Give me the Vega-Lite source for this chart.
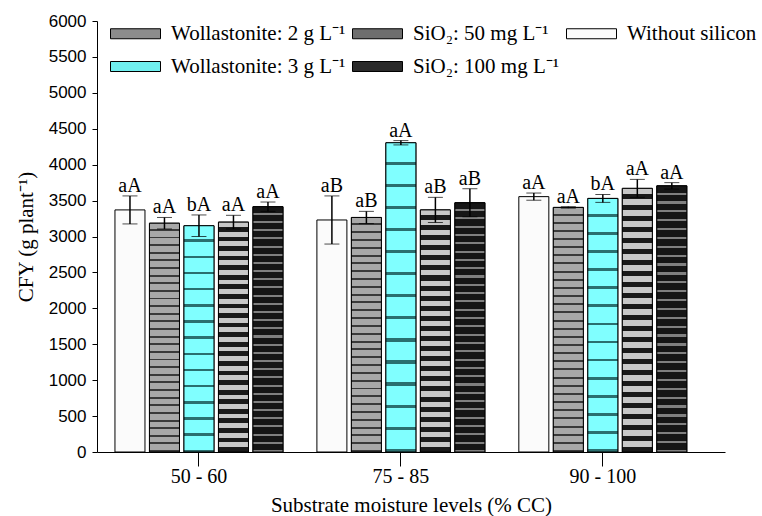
{
  "$schema": "https://vega.github.io/schema/vega-lite/v6.json",
  "width": 628,
  "height": 431,
  "autosize": {"type": "none"},
  "padding": {"left": 97, "top": 21, "right": 37, "bottom": 64},
  "background": "white",
  "config": {
    "view": {"stroke": null},
    "font": "Liberation Serif",
    "axisY": {
      "values": [0, 250, 500, 750, 1000, 1250, 1500, 1750, 2000, 2250, 2500, 2750, 3000, 3250, 3500, 3750, 4000, 4250, 4500, 4750, 5000, 5250, 5500, 5750, 6000],
      "labelExpr": "datum.value % 500 === 0 ? datum.value : ''",
      "labelOverlap": false,
      "grid": false,
      "labelFont": "Liberation Sans", "labelFontSize": 17, "labelColor": "black",
      "labelPadding": 6,
      "titleFont": "Liberation Serif", "titleFontSize": 21, "titleFontWeight": "normal", "titleColor": "black",
      "titlePadding": 12,
      "domainColor": "black", "domainWidth": 1,
      "tickColor": "black", "tickWidth": 1,
      "tickSize": 5
    }
  },
  "data": {"values": [
    {"level": "50 - 60", "treatment": "Without silicon", "cfy": 3370, "sd": 195, "letter": "aA"},
    {"level": "50 - 60", "treatment": "Wollastonite: 2 g L⁻¹", "cfy": 3185, "sd": 80, "letter": "aA"},
    {"level": "50 - 60", "treatment": "Wollastonite: 3 g L⁻¹", "cfy": 3150, "sd": 150, "letter": "bA"},
    {"level": "50 - 60", "treatment": "SiO₂: 50 mg L⁻¹", "cfy": 3200, "sd": 95, "letter": "aA"},
    {"level": "50 - 60", "treatment": "SiO₂: 100 mg L⁻¹", "cfy": 3415, "sd": 65, "letter": "aA"},
    {"level": "75 - 85", "treatment": "Without silicon", "cfy": 3230, "sd": 335, "letter": "aB"},
    {"level": "75 - 85", "treatment": "Wollastonite: 2 g L⁻¹", "cfy": 3265, "sd": 85, "letter": "aB"},
    {"level": "75 - 85", "treatment": "Wollastonite: 3 g L⁻¹", "cfy": 4305, "sd": 30, "letter": "aA"},
    {"level": "75 - 85", "treatment": "SiO₂: 50 mg L⁻¹", "cfy": 3370, "sd": 175, "letter": "aB"},
    {"level": "75 - 85", "treatment": "SiO₂: 100 mg L⁻¹", "cfy": 3470, "sd": 195, "letter": "aB"},
    {"level": "90 - 100", "treatment": "Without silicon", "cfy": 3555, "sd": 50, "letter": "aA"},
    {"level": "90 - 100", "treatment": "Wollastonite: 2 g L⁻¹", "cfy": 3405, "sd": 10, "letter": "aA"},
    {"level": "90 - 100", "treatment": "Wollastonite: 3 g L⁻¹", "cfy": 3530, "sd": 55, "letter": "bA"},
    {"level": "90 - 100", "treatment": "SiO₂: 50 mg L⁻¹", "cfy": 3670, "sd": 125, "letter": "aA"},
    {"level": "90 - 100", "treatment": "SiO₂: 100 mg L⁻¹", "cfy": 3705, "sd": 45, "letter": "aA"}
  ]},
  "encoding": {
    "x": {
      "field": "level", "type": "nominal",
      "sort": ["50 - 60", "75 - 85", "90 - 100"],
      "scale": {"paddingInner": 0.168, "paddingOuter": 0.139, "align": 0.32},
      "axis": {
        "title": "Substrate moisture levels (% CC)",
        "labelAngle": 0,
        "labelFont": "Liberation Serif", "labelFontSize": 20, "labelColor": "black",
        "labelPadding": 0,
        "titleFont": "Liberation Serif", "titleFontSize": 21, "titleFontWeight": "normal", "titleColor": "black",
        "titlePadding": 8,
        "domainColor": "black", "domainWidth": 1,
        "tickColor": "black", "tickSize": 14, "tickWidth": 1
      }
    },
    "xOffset": {
      "field": "treatment", "type": "nominal",
      "sort": ["Without silicon", "Wollastonite: 2 g L⁻¹", "Wollastonite: 3 g L⁻¹", "SiO₂: 50 mg L⁻¹", "SiO₂: 100 mg L⁻¹"],
      "scale": {"paddingInner": 0.13, "paddingOuter": 0}
    },
    "y": {
      "field": "cfy", "type": "quantitative",
      "title": "CFY (g plant⁻¹)",
      "scale": {"domain": [0, 6000], "nice": false}
    }
  },
  "layer": [
    {
      "mark": {"type": "bar", "stroke": "black", "strokeWidth": 1},
      "encoding": {
        "fill": {
          "field": "treatment", "type": "nominal",
          "scale": {
            "domain": ["Wollastonite: 2 g L⁻¹", "Wollastonite: 3 g L⁻¹", "SiO₂: 50 mg L⁻¹", "SiO₂: 100 mg L⁻¹", "Without silicon"],
            "range": ["#8c8c8c", "#70f0f0", "#6e6e6e", "#2a2a2a", "#fbfbfb"]
          },
          "legend": {
            "title": null,
            "orient": "none",
            "legendX": 28,
            "legendY": 2,
            "columns": 3,
            "gridAlign": "each",
            "columnPadding": 4,
            "rowPadding": 11,
            "symbolType": "M-2.5,-0.5H2.5V0.5H-2.5Z",
            "symbolSize": 400,
            "symbolStrokeColor": "black",
            "symbolStrokeWidth": 1,
            "symbolOpacity": 1,
            "labelFont": "Liberation Serif",
            "labelFontSize": 21,
            "labelColor": "black",
            "labelOffset": 25,
            "labelLimit": 400
          }
        }
      }
    },
    {
      "transform": [{"filter": "datum.treatment === 'Wollastonite: 2 g L⁻¹'"}],
      "mark": {"type": "bar", "stroke": "black", "strokeWidth": 1, "fill": {"gradient": "linear", "x1": 0, "y1": 0, "x2": 0, "y2": 1, "stops": [
        {"offset": 0, "color": "#a8a8a8"}, {"offset": 0.025, "color": "#a8a8a8"}, {"offset": 0.025, "color": "#3a3a3a"}, {"offset": 0.0333, "color": "#3a3a3a"},
        {"offset": 0.0333, "color": "#a8a8a8"}, {"offset": 0.0583, "color": "#a8a8a8"}, {"offset": 0.0583, "color": "#3a3a3a"}, {"offset": 0.0667, "color": "#3a3a3a"},
        {"offset": 0.0667, "color": "#a8a8a8"}, {"offset": 0.0917, "color": "#a8a8a8"}, {"offset": 0.0917, "color": "#3a3a3a"}, {"offset": 0.1, "color": "#3a3a3a"},
        {"offset": 0.1, "color": "#a8a8a8"}, {"offset": 0.125, "color": "#a8a8a8"}, {"offset": 0.125, "color": "#3a3a3a"}, {"offset": 0.1333, "color": "#3a3a3a"},
        {"offset": 0.1333, "color": "#a8a8a8"}, {"offset": 0.1583, "color": "#a8a8a8"}, {"offset": 0.1583, "color": "#3a3a3a"}, {"offset": 0.1667, "color": "#3a3a3a"},
        {"offset": 0.1667, "color": "#a8a8a8"}, {"offset": 0.1917, "color": "#a8a8a8"}, {"offset": 0.1917, "color": "#3a3a3a"}, {"offset": 0.2, "color": "#3a3a3a"},
        {"offset": 0.2, "color": "#a8a8a8"}, {"offset": 0.225, "color": "#a8a8a8"}, {"offset": 0.225, "color": "#3a3a3a"}, {"offset": 0.2333, "color": "#3a3a3a"},
        {"offset": 0.2333, "color": "#a8a8a8"}, {"offset": 0.2583, "color": "#a8a8a8"}, {"offset": 0.2583, "color": "#3a3a3a"}, {"offset": 0.2667, "color": "#3a3a3a"},
        {"offset": 0.2667, "color": "#a8a8a8"}, {"offset": 0.2917, "color": "#a8a8a8"}, {"offset": 0.2917, "color": "#3a3a3a"}, {"offset": 0.3, "color": "#3a3a3a"},
        {"offset": 0.3, "color": "#a8a8a8"}, {"offset": 0.325, "color": "#a8a8a8"}, {"offset": 0.325, "color": "#3a3a3a"}, {"offset": 0.3333, "color": "#3a3a3a"},
        {"offset": 0.3333, "color": "#a8a8a8"}, {"offset": 0.3583, "color": "#a8a8a8"}, {"offset": 0.3583, "color": "#3a3a3a"}, {"offset": 0.3667, "color": "#3a3a3a"},
        {"offset": 0.3667, "color": "#a8a8a8"}, {"offset": 0.3917, "color": "#a8a8a8"}, {"offset": 0.3917, "color": "#3a3a3a"}, {"offset": 0.4, "color": "#3a3a3a"},
        {"offset": 0.4, "color": "#a8a8a8"}, {"offset": 0.425, "color": "#a8a8a8"}, {"offset": 0.425, "color": "#3a3a3a"}, {"offset": 0.4333, "color": "#3a3a3a"},
        {"offset": 0.4333, "color": "#a8a8a8"}, {"offset": 0.4583, "color": "#a8a8a8"}, {"offset": 0.4583, "color": "#3a3a3a"}, {"offset": 0.4667, "color": "#3a3a3a"},
        {"offset": 0.4667, "color": "#a8a8a8"}, {"offset": 0.4917, "color": "#a8a8a8"}, {"offset": 0.4917, "color": "#3a3a3a"}, {"offset": 0.5, "color": "#3a3a3a"},
        {"offset": 0.5, "color": "#a8a8a8"}, {"offset": 0.525, "color": "#a8a8a8"}, {"offset": 0.525, "color": "#3a3a3a"}, {"offset": 0.5333, "color": "#3a3a3a"},
        {"offset": 0.5333, "color": "#a8a8a8"}, {"offset": 0.5583, "color": "#a8a8a8"}, {"offset": 0.5583, "color": "#3a3a3a"}, {"offset": 0.5667, "color": "#3a3a3a"},
        {"offset": 0.5667, "color": "#a8a8a8"}, {"offset": 0.5917, "color": "#a8a8a8"}, {"offset": 0.5917, "color": "#3a3a3a"}, {"offset": 0.6, "color": "#3a3a3a"},
        {"offset": 0.6, "color": "#a8a8a8"}, {"offset": 0.625, "color": "#a8a8a8"}, {"offset": 0.625, "color": "#3a3a3a"}, {"offset": 0.6333, "color": "#3a3a3a"},
        {"offset": 0.6333, "color": "#a8a8a8"}, {"offset": 0.6583, "color": "#a8a8a8"}, {"offset": 0.6583, "color": "#3a3a3a"}, {"offset": 0.6667, "color": "#3a3a3a"},
        {"offset": 0.6667, "color": "#a8a8a8"}, {"offset": 0.6917, "color": "#a8a8a8"}, {"offset": 0.6917, "color": "#3a3a3a"}, {"offset": 0.7, "color": "#3a3a3a"},
        {"offset": 0.7, "color": "#a8a8a8"}, {"offset": 0.725, "color": "#a8a8a8"}, {"offset": 0.725, "color": "#3a3a3a"}, {"offset": 0.7333, "color": "#3a3a3a"},
        {"offset": 0.7333, "color": "#a8a8a8"}, {"offset": 0.7583, "color": "#a8a8a8"}, {"offset": 0.7583, "color": "#3a3a3a"}, {"offset": 0.7667, "color": "#3a3a3a"},
        {"offset": 0.7667, "color": "#a8a8a8"}, {"offset": 0.7917, "color": "#a8a8a8"}, {"offset": 0.7917, "color": "#3a3a3a"}, {"offset": 0.8, "color": "#3a3a3a"},
        {"offset": 0.8, "color": "#a8a8a8"}, {"offset": 0.825, "color": "#a8a8a8"}, {"offset": 0.825, "color": "#3a3a3a"}, {"offset": 0.8333, "color": "#3a3a3a"},
        {"offset": 0.8333, "color": "#a8a8a8"}, {"offset": 0.8583, "color": "#a8a8a8"}, {"offset": 0.8583, "color": "#3a3a3a"}, {"offset": 0.8667, "color": "#3a3a3a"},
        {"offset": 0.8667, "color": "#a8a8a8"}, {"offset": 0.8917, "color": "#a8a8a8"}, {"offset": 0.8917, "color": "#3a3a3a"}, {"offset": 0.9, "color": "#3a3a3a"},
        {"offset": 0.9, "color": "#a8a8a8"}, {"offset": 0.925, "color": "#a8a8a8"}, {"offset": 0.925, "color": "#3a3a3a"}, {"offset": 0.9333, "color": "#3a3a3a"},
        {"offset": 0.9333, "color": "#a8a8a8"}, {"offset": 0.9583, "color": "#a8a8a8"}, {"offset": 0.9583, "color": "#3a3a3a"}, {"offset": 0.9667, "color": "#3a3a3a"},
        {"offset": 0.9667, "color": "#a8a8a8"}, {"offset": 0.9917, "color": "#a8a8a8"}, {"offset": 0.9917, "color": "#3a3a3a"}, {"offset": 1, "color": "#3a3a3a"}
      ]}},
      "encoding": {}
    },
    {
      "transform": [{"filter": "datum.treatment === 'Wollastonite: 3 g L⁻¹'"}],
      "mark": {"type": "bar", "stroke": "black", "strokeWidth": 1, "fill": {"gradient": "linear", "x1": 0, "y1": 0, "x2": 0, "y2": 1, "stops": [
        {"offset": 0, "color": "#80ffff"}, {"offset": 0.0607, "color": "#80ffff"}, {"offset": 0.0607, "color": "#2a6f6f"}, {"offset": 0.0714, "color": "#2a6f6f"},
        {"offset": 0.0714, "color": "#80ffff"}, {"offset": 0.1321, "color": "#80ffff"}, {"offset": 0.1321, "color": "#2a6f6f"}, {"offset": 0.1429, "color": "#2a6f6f"},
        {"offset": 0.1429, "color": "#80ffff"}, {"offset": 0.2036, "color": "#80ffff"}, {"offset": 0.2036, "color": "#2a6f6f"}, {"offset": 0.2143, "color": "#2a6f6f"},
        {"offset": 0.2143, "color": "#80ffff"}, {"offset": 0.275, "color": "#80ffff"}, {"offset": 0.275, "color": "#2a6f6f"}, {"offset": 0.2857, "color": "#2a6f6f"},
        {"offset": 0.2857, "color": "#80ffff"}, {"offset": 0.3464, "color": "#80ffff"}, {"offset": 0.3464, "color": "#2a6f6f"}, {"offset": 0.3571, "color": "#2a6f6f"},
        {"offset": 0.3571, "color": "#80ffff"}, {"offset": 0.4179, "color": "#80ffff"}, {"offset": 0.4179, "color": "#2a6f6f"}, {"offset": 0.4286, "color": "#2a6f6f"},
        {"offset": 0.4286, "color": "#80ffff"}, {"offset": 0.4893, "color": "#80ffff"}, {"offset": 0.4893, "color": "#2a6f6f"}, {"offset": 0.5, "color": "#2a6f6f"},
        {"offset": 0.5, "color": "#80ffff"}, {"offset": 0.5607, "color": "#80ffff"}, {"offset": 0.5607, "color": "#2a6f6f"}, {"offset": 0.5714, "color": "#2a6f6f"},
        {"offset": 0.5714, "color": "#80ffff"}, {"offset": 0.6321, "color": "#80ffff"}, {"offset": 0.6321, "color": "#2a6f6f"}, {"offset": 0.6429, "color": "#2a6f6f"},
        {"offset": 0.6429, "color": "#80ffff"}, {"offset": 0.7036, "color": "#80ffff"}, {"offset": 0.7036, "color": "#2a6f6f"}, {"offset": 0.7143, "color": "#2a6f6f"},
        {"offset": 0.7143, "color": "#80ffff"}, {"offset": 0.775, "color": "#80ffff"}, {"offset": 0.775, "color": "#2a6f6f"}, {"offset": 0.7857, "color": "#2a6f6f"},
        {"offset": 0.7857, "color": "#80ffff"}, {"offset": 0.8464, "color": "#80ffff"}, {"offset": 0.8464, "color": "#2a6f6f"}, {"offset": 0.8571, "color": "#2a6f6f"},
        {"offset": 0.8571, "color": "#80ffff"}, {"offset": 0.9179, "color": "#80ffff"}, {"offset": 0.9179, "color": "#2a6f6f"}, {"offset": 0.9286, "color": "#2a6f6f"},
        {"offset": 0.9286, "color": "#80ffff"}, {"offset": 0.9893, "color": "#80ffff"}, {"offset": 0.9893, "color": "#2a6f6f"}, {"offset": 1, "color": "#2a6f6f"}
      ]}},
      "encoding": {}
    },
    {
      "transform": [{"filter": "datum.treatment === 'SiO₂: 50 mg L⁻¹'"}],
      "mark": {"type": "bar", "stroke": "black", "strokeWidth": 1, "fill": {"gradient": "linear", "x1": 0, "y1": 0, "x2": 0, "y2": 1, "stops": [
        {"offset": 0, "color": "#c8c8c8"}, {"offset": 0.0208, "color": "#c8c8c8"}, {"offset": 0.0208, "color": "#1a1a1a"}, {"offset": 0.0417, "color": "#1a1a1a"},
        {"offset": 0.0417, "color": "#c8c8c8"}, {"offset": 0.0625, "color": "#c8c8c8"}, {"offset": 0.0625, "color": "#1a1a1a"}, {"offset": 0.0833, "color": "#1a1a1a"},
        {"offset": 0.0833, "color": "#c8c8c8"}, {"offset": 0.1042, "color": "#c8c8c8"}, {"offset": 0.1042, "color": "#1a1a1a"}, {"offset": 0.125, "color": "#1a1a1a"},
        {"offset": 0.125, "color": "#c8c8c8"}, {"offset": 0.1458, "color": "#c8c8c8"}, {"offset": 0.1458, "color": "#1a1a1a"}, {"offset": 0.1667, "color": "#1a1a1a"},
        {"offset": 0.1667, "color": "#c8c8c8"}, {"offset": 0.1875, "color": "#c8c8c8"}, {"offset": 0.1875, "color": "#1a1a1a"}, {"offset": 0.2083, "color": "#1a1a1a"},
        {"offset": 0.2083, "color": "#c8c8c8"}, {"offset": 0.2292, "color": "#c8c8c8"}, {"offset": 0.2292, "color": "#1a1a1a"}, {"offset": 0.25, "color": "#1a1a1a"},
        {"offset": 0.25, "color": "#c8c8c8"}, {"offset": 0.2708, "color": "#c8c8c8"}, {"offset": 0.2708, "color": "#1a1a1a"}, {"offset": 0.2917, "color": "#1a1a1a"},
        {"offset": 0.2917, "color": "#c8c8c8"}, {"offset": 0.3125, "color": "#c8c8c8"}, {"offset": 0.3125, "color": "#1a1a1a"}, {"offset": 0.3333, "color": "#1a1a1a"},
        {"offset": 0.3333, "color": "#c8c8c8"}, {"offset": 0.3542, "color": "#c8c8c8"}, {"offset": 0.3542, "color": "#1a1a1a"}, {"offset": 0.375, "color": "#1a1a1a"},
        {"offset": 0.375, "color": "#c8c8c8"}, {"offset": 0.3958, "color": "#c8c8c8"}, {"offset": 0.3958, "color": "#1a1a1a"}, {"offset": 0.4167, "color": "#1a1a1a"},
        {"offset": 0.4167, "color": "#c8c8c8"}, {"offset": 0.4375, "color": "#c8c8c8"}, {"offset": 0.4375, "color": "#1a1a1a"}, {"offset": 0.4583, "color": "#1a1a1a"},
        {"offset": 0.4583, "color": "#c8c8c8"}, {"offset": 0.4792, "color": "#c8c8c8"}, {"offset": 0.4792, "color": "#1a1a1a"}, {"offset": 0.5, "color": "#1a1a1a"},
        {"offset": 0.5, "color": "#c8c8c8"}, {"offset": 0.5208, "color": "#c8c8c8"}, {"offset": 0.5208, "color": "#1a1a1a"}, {"offset": 0.5417, "color": "#1a1a1a"},
        {"offset": 0.5417, "color": "#c8c8c8"}, {"offset": 0.5625, "color": "#c8c8c8"}, {"offset": 0.5625, "color": "#1a1a1a"}, {"offset": 0.5833, "color": "#1a1a1a"},
        {"offset": 0.5833, "color": "#c8c8c8"}, {"offset": 0.6042, "color": "#c8c8c8"}, {"offset": 0.6042, "color": "#1a1a1a"}, {"offset": 0.625, "color": "#1a1a1a"},
        {"offset": 0.625, "color": "#c8c8c8"}, {"offset": 0.6458, "color": "#c8c8c8"}, {"offset": 0.6458, "color": "#1a1a1a"}, {"offset": 0.6667, "color": "#1a1a1a"},
        {"offset": 0.6667, "color": "#c8c8c8"}, {"offset": 0.6875, "color": "#c8c8c8"}, {"offset": 0.6875, "color": "#1a1a1a"}, {"offset": 0.7083, "color": "#1a1a1a"},
        {"offset": 0.7083, "color": "#c8c8c8"}, {"offset": 0.7292, "color": "#c8c8c8"}, {"offset": 0.7292, "color": "#1a1a1a"}, {"offset": 0.75, "color": "#1a1a1a"},
        {"offset": 0.75, "color": "#c8c8c8"}, {"offset": 0.7708, "color": "#c8c8c8"}, {"offset": 0.7708, "color": "#1a1a1a"}, {"offset": 0.7917, "color": "#1a1a1a"},
        {"offset": 0.7917, "color": "#c8c8c8"}, {"offset": 0.8125, "color": "#c8c8c8"}, {"offset": 0.8125, "color": "#1a1a1a"}, {"offset": 0.8333, "color": "#1a1a1a"},
        {"offset": 0.8333, "color": "#c8c8c8"}, {"offset": 0.8542, "color": "#c8c8c8"}, {"offset": 0.8542, "color": "#1a1a1a"}, {"offset": 0.875, "color": "#1a1a1a"},
        {"offset": 0.875, "color": "#c8c8c8"}, {"offset": 0.8958, "color": "#c8c8c8"}, {"offset": 0.8958, "color": "#1a1a1a"}, {"offset": 0.9167, "color": "#1a1a1a"},
        {"offset": 0.9167, "color": "#c8c8c8"}, {"offset": 0.9375, "color": "#c8c8c8"}, {"offset": 0.9375, "color": "#1a1a1a"}, {"offset": 0.9583, "color": "#1a1a1a"},
        {"offset": 0.9583, "color": "#c8c8c8"}, {"offset": 0.9792, "color": "#c8c8c8"}, {"offset": 0.9792, "color": "#1a1a1a"}, {"offset": 1, "color": "#1a1a1a"}
      ]}},
      "encoding": {}
    },
    {
      "transform": [{"filter": "datum.treatment === 'SiO₂: 100 mg L⁻¹'"}],
      "mark": {"type": "bar", "stroke": "black", "strokeWidth": 1, "fill": {"gradient": "linear", "x1": 0, "y1": 0, "x2": 0, "y2": 1, "stops": [
        {"offset": 0, "color": "#161616"}, {"offset": 0.025, "color": "#161616"}, {"offset": 0.025, "color": "#808080"}, {"offset": 0.0333, "color": "#808080"},
        {"offset": 0.0333, "color": "#161616"}, {"offset": 0.0583, "color": "#161616"}, {"offset": 0.0583, "color": "#808080"}, {"offset": 0.0667, "color": "#808080"},
        {"offset": 0.0667, "color": "#161616"}, {"offset": 0.0917, "color": "#161616"}, {"offset": 0.0917, "color": "#808080"}, {"offset": 0.1, "color": "#808080"},
        {"offset": 0.1, "color": "#161616"}, {"offset": 0.125, "color": "#161616"}, {"offset": 0.125, "color": "#808080"}, {"offset": 0.1333, "color": "#808080"},
        {"offset": 0.1333, "color": "#161616"}, {"offset": 0.1583, "color": "#161616"}, {"offset": 0.1583, "color": "#808080"}, {"offset": 0.1667, "color": "#808080"},
        {"offset": 0.1667, "color": "#161616"}, {"offset": 0.1917, "color": "#161616"}, {"offset": 0.1917, "color": "#808080"}, {"offset": 0.2, "color": "#808080"},
        {"offset": 0.2, "color": "#161616"}, {"offset": 0.225, "color": "#161616"}, {"offset": 0.225, "color": "#808080"}, {"offset": 0.2333, "color": "#808080"},
        {"offset": 0.2333, "color": "#161616"}, {"offset": 0.2583, "color": "#161616"}, {"offset": 0.2583, "color": "#808080"}, {"offset": 0.2667, "color": "#808080"},
        {"offset": 0.2667, "color": "#161616"}, {"offset": 0.2917, "color": "#161616"}, {"offset": 0.2917, "color": "#808080"}, {"offset": 0.3, "color": "#808080"},
        {"offset": 0.3, "color": "#161616"}, {"offset": 0.325, "color": "#161616"}, {"offset": 0.325, "color": "#808080"}, {"offset": 0.3333, "color": "#808080"},
        {"offset": 0.3333, "color": "#161616"}, {"offset": 0.3583, "color": "#161616"}, {"offset": 0.3583, "color": "#808080"}, {"offset": 0.3667, "color": "#808080"},
        {"offset": 0.3667, "color": "#161616"}, {"offset": 0.3917, "color": "#161616"}, {"offset": 0.3917, "color": "#808080"}, {"offset": 0.4, "color": "#808080"},
        {"offset": 0.4, "color": "#161616"}, {"offset": 0.425, "color": "#161616"}, {"offset": 0.425, "color": "#808080"}, {"offset": 0.4333, "color": "#808080"},
        {"offset": 0.4333, "color": "#161616"}, {"offset": 0.4583, "color": "#161616"}, {"offset": 0.4583, "color": "#808080"}, {"offset": 0.4667, "color": "#808080"},
        {"offset": 0.4667, "color": "#161616"}, {"offset": 0.4917, "color": "#161616"}, {"offset": 0.4917, "color": "#808080"}, {"offset": 0.5, "color": "#808080"},
        {"offset": 0.5, "color": "#161616"}, {"offset": 0.525, "color": "#161616"}, {"offset": 0.525, "color": "#808080"}, {"offset": 0.5333, "color": "#808080"},
        {"offset": 0.5333, "color": "#161616"}, {"offset": 0.5583, "color": "#161616"}, {"offset": 0.5583, "color": "#808080"}, {"offset": 0.5667, "color": "#808080"},
        {"offset": 0.5667, "color": "#161616"}, {"offset": 0.5917, "color": "#161616"}, {"offset": 0.5917, "color": "#808080"}, {"offset": 0.6, "color": "#808080"},
        {"offset": 0.6, "color": "#161616"}, {"offset": 0.625, "color": "#161616"}, {"offset": 0.625, "color": "#808080"}, {"offset": 0.6333, "color": "#808080"},
        {"offset": 0.6333, "color": "#161616"}, {"offset": 0.6583, "color": "#161616"}, {"offset": 0.6583, "color": "#808080"}, {"offset": 0.6667, "color": "#808080"},
        {"offset": 0.6667, "color": "#161616"}, {"offset": 0.6917, "color": "#161616"}, {"offset": 0.6917, "color": "#808080"}, {"offset": 0.7, "color": "#808080"},
        {"offset": 0.7, "color": "#161616"}, {"offset": 0.725, "color": "#161616"}, {"offset": 0.725, "color": "#808080"}, {"offset": 0.7333, "color": "#808080"},
        {"offset": 0.7333, "color": "#161616"}, {"offset": 0.7583, "color": "#161616"}, {"offset": 0.7583, "color": "#808080"}, {"offset": 0.7667, "color": "#808080"},
        {"offset": 0.7667, "color": "#161616"}, {"offset": 0.7917, "color": "#161616"}, {"offset": 0.7917, "color": "#808080"}, {"offset": 0.8, "color": "#808080"},
        {"offset": 0.8, "color": "#161616"}, {"offset": 0.825, "color": "#161616"}, {"offset": 0.825, "color": "#808080"}, {"offset": 0.8333, "color": "#808080"},
        {"offset": 0.8333, "color": "#161616"}, {"offset": 0.8583, "color": "#161616"}, {"offset": 0.8583, "color": "#808080"}, {"offset": 0.8667, "color": "#808080"},
        {"offset": 0.8667, "color": "#161616"}, {"offset": 0.8917, "color": "#161616"}, {"offset": 0.8917, "color": "#808080"}, {"offset": 0.9, "color": "#808080"},
        {"offset": 0.9, "color": "#161616"}, {"offset": 0.925, "color": "#161616"}, {"offset": 0.925, "color": "#808080"}, {"offset": 0.9333, "color": "#808080"},
        {"offset": 0.9333, "color": "#161616"}, {"offset": 0.9583, "color": "#161616"}, {"offset": 0.9583, "color": "#808080"}, {"offset": 0.9667, "color": "#808080"},
        {"offset": 0.9667, "color": "#161616"}, {"offset": 0.9917, "color": "#161616"}, {"offset": 0.9917, "color": "#808080"}, {"offset": 1, "color": "#808080"}
      ]}},
      "encoding": {}
    },
    {
      "mark": {"type": "errorbar", "ticks": {"size": 15, "color": "black"}, "rule": {"color": "black", "strokeWidth": 1.5}},
      "encoding": {
        "yError": {"field": "sd"}
      }
    },
    {
      "transform": [{"calculate": "datum.cfy + datum.sd", "as": "top"}],
      "mark": {"type": "text", "baseline": "alphabetic", "dy": -4, "font": "Liberation Serif", "fontSize": 20, "color": "black"},
      "encoding": {
        "y": {"field": "top", "type": "quantitative", "title": "CFY (g plant⁻¹)"},
        "text": {"field": "letter"}
      }
    }
  ]
}
